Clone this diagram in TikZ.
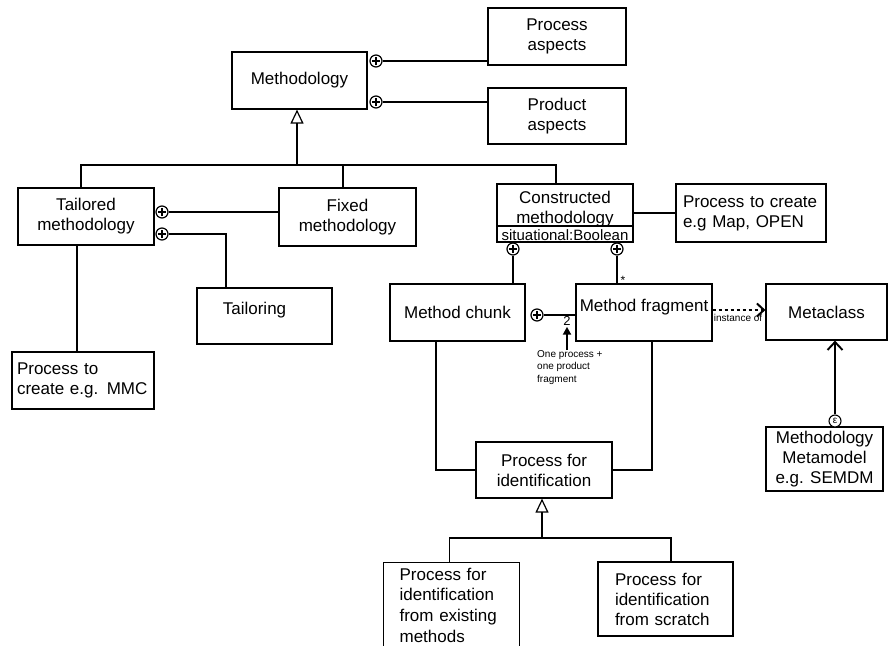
\documentclass[tikz,border=0pt]{standalone}
\usepackage{fontspec}
\setmainfont{Liberation Sans}
\usetikzlibrary{arrows.meta}
\newcommand{\bigf}{\fontsize{17}{20}\selectfont}
\newcommand{\attrf}{\fontsize{15}{16}\selectfont}
\newcommand{\smallf}{\fontsize{10}{12.5}\selectfont}
\begin{document}
\begin{tikzpicture}[x=1pt,y=-1pt,
  box/.style={draw, line width=1.2pt, inner sep=0pt, align=center, font=\bigf},
  line/.style={line width=1.2pt},
  comp/.style={circle, draw, line width=1.2pt, minimum size=12pt, inner sep=0pt, fill=white,
    path picture={\draw[line width=1.2pt] ([xshift=-4pt]path picture bounding box.center) -- ([xshift=4pt]path picture bounding box.center) ([yshift=-4pt]path picture bounding box.center) -- ([yshift=4pt]path picture bounding box.center);}},
  gen/.style={line width=1.2pt, -{Triangle[open,length=14pt,width=13pt]}}]
\useasboundingbox (0,0) rectangle (891,645);

% boxes
\node[box, minimum width=135pt, minimum height=57pt] (meth) at (299.5,80.5) {Methodology};
\node[box, minimum width=138pt, minimum height=57pt] (proc) at (557,36.5) {Process\\aspects};
\node[box, minimum width=138pt, minimum height=56pt] (prod) at (557,116) {Product\\aspects};
\node[box, minimum width=136pt, minimum height=57pt] (tail) at (86,216.5) {Tailored\\methodology};
\node[box, minimum width=137pt, minimum height=58pt] (fixed) at (347.5,217) {Fixed\\methodology};
\node[box, minimum width=136pt, minimum height=58pt] (con) at (565,213) {};
\node[font=\bigf, align=center, inner sep=0pt] (contxt) at (565,209) {Constructed\\methodology};
\node[font=\attrf, inner sep=0pt] (conattr) at (565,235.5) {situational:Boolean};
\draw[line] ([yshift=-13pt]con.west) -- ([yshift=-13pt]con.east);
\node[box, text width=136pt, align=left, inner xsep=7pt, minimum height=58pt] (pcreate) at (751,213) {Process to create\\e.g Map, OPEN};
\node[box, minimum width=135pt, minimum height=56pt, label={[font=\bigf, xshift=-10pt, yshift=6pt]center:Tailoring}] (tailoring) at (264.5,316) {};
\node[box, text width=132pt, align=left, inner xsep=5pt, minimum height=57pt] (mmc) at (83,380.5) {Process to\\create e.g. MMC};
\node[box, minimum width=135pt, minimum height=57pt] (chunk) at (457.5,312.5) {Method chunk};
\node[box, minimum width=136pt, minimum height=57pt, label={[font=\bigf, yshift=5pt]center:Method fragment}] (frag) at (644,312.5) {};
\node[box, minimum width=121pt, minimum height=56pt] (meta) at (826.5,312) {Metaclass};
\node[box, minimum width=117pt, minimum height=64pt] (mm) at (824.5,459) {Methodology\\Metamodel\\e.g. SEMDM};
\node[box, minimum width=136pt, minimum height=56pt] (pid) at (544,470) {Process for\\identification};
\node[box, anchor=north west, text width=104pt, align=left, inner xsep=16pt, minimum height=85pt, font=\fontsize{17}{20.7}\selectfont] (pex) at (383,562) {Process for\\identification\\from existing\\methods};
\node[box, text width=101pt, align=left, inner xsep=17pt, minimum height=74pt] (pscr) at (665.5,599) {Process for\\identification\\from scratch};

% generalization: methodology
\coordinate (gbus) at (297,165);
\draw[gen] (gbus) -- (gbus |- meth.south);
\draw[line] ([xshift=-5pt]tail.north) |- ([xshift=-9pt]con.north |- gbus) -- ([xshift=-9pt]con.north);
\draw[line] ([xshift=-4.5pt]fixed.north) -- ([xshift=-4.5pt]fixed.north |- gbus);

% compositions
\node[comp] (c1) at (376,61) {};
\draw[line] (c1) -- (c1 -| proc.west);
\node[comp] (c2) at (376,102) {};
\draw[line] (c2) -- (c2 -| prod.west);
\node[comp] (c3) at (162,212) {};
\draw[line] (c3) -- (c3 -| fixed.west);
\node[comp] (c4) at (162,234) {};
\draw[line] (c4) -| ([xshift=-38.5pt]tailoring.north);
\node[comp] (c5) at (513,249) {};
\draw[line] (c5) -- (c5 |- chunk.north);
\node[comp] (c6) at (617,249) {};
\draw[line] (c6) -- (c6 |- frag.north);
\node[font=\fontsize{12}{12}\selectfont, inner sep=0pt] (star) at (623,280) {*};
\node[comp] (c7) at (537,315) {};
\draw[line] (c7) -- (c7 -| frag.west);

% plain associations
\draw[line] (con.east) -- (con.east -| pcreate.west);
\draw[line] ([xshift=-9pt]tail.south) -- ([xshift=-9pt]tail.south |- mmc.north);
\draw[line] ([xshift=-21.5pt]chunk.south) |- (pid.west);
\draw[line] ([xshift=8pt]frag.south) |- (pid.east);

% instance of
\draw[line width=2pt, dash pattern=on 3.5pt off 2.5pt, -{Straight Barb[length=7pt,width=13pt]}] ([yshift=2.5pt]frag.east) -- ([yshift=2.5pt]frag.east -| meta.west);
\node[font=\smallf, inner sep=0pt] (inst) at (738,318) {instance of};

% metamodel arrow
\node[circle, draw, line width=1.1pt, minimum size=12pt, inner sep=0pt, fill=white, font=\fontsize{10}{10}\selectfont] (eps) at (835,421) {ε};
\draw[line width=1.9pt, -{Straight Barb[length=8pt,width=15pt]}] (eps) -- (eps |- meta.south);

% note
\node[font=\fontsize{13}{13}\selectfont, inner sep=0pt] (two) at (567,321) {2};
\node[font=\smallf, align=left, anchor=north west, inner sep=0pt] (note) at (537,350) {One process +\\one product\\fragment};
\draw[line width=2pt, -{Triangle[length=8pt,width=8pt]}] (two.south |- note.north) -- ([yshift=-1pt]two.south);

% generalization: process for identification
\coordinate (gbus2) at (542,538);
\draw[gen] (gbus2) -- (gbus2 |- pid.south);
\draw[line] ([xshift=-2pt]pex.north) |- ([xshift=5.5pt]pscr.north |- gbus2) -- ([xshift=5.5pt]pscr.north);
\end{tikzpicture}
\end{document}
